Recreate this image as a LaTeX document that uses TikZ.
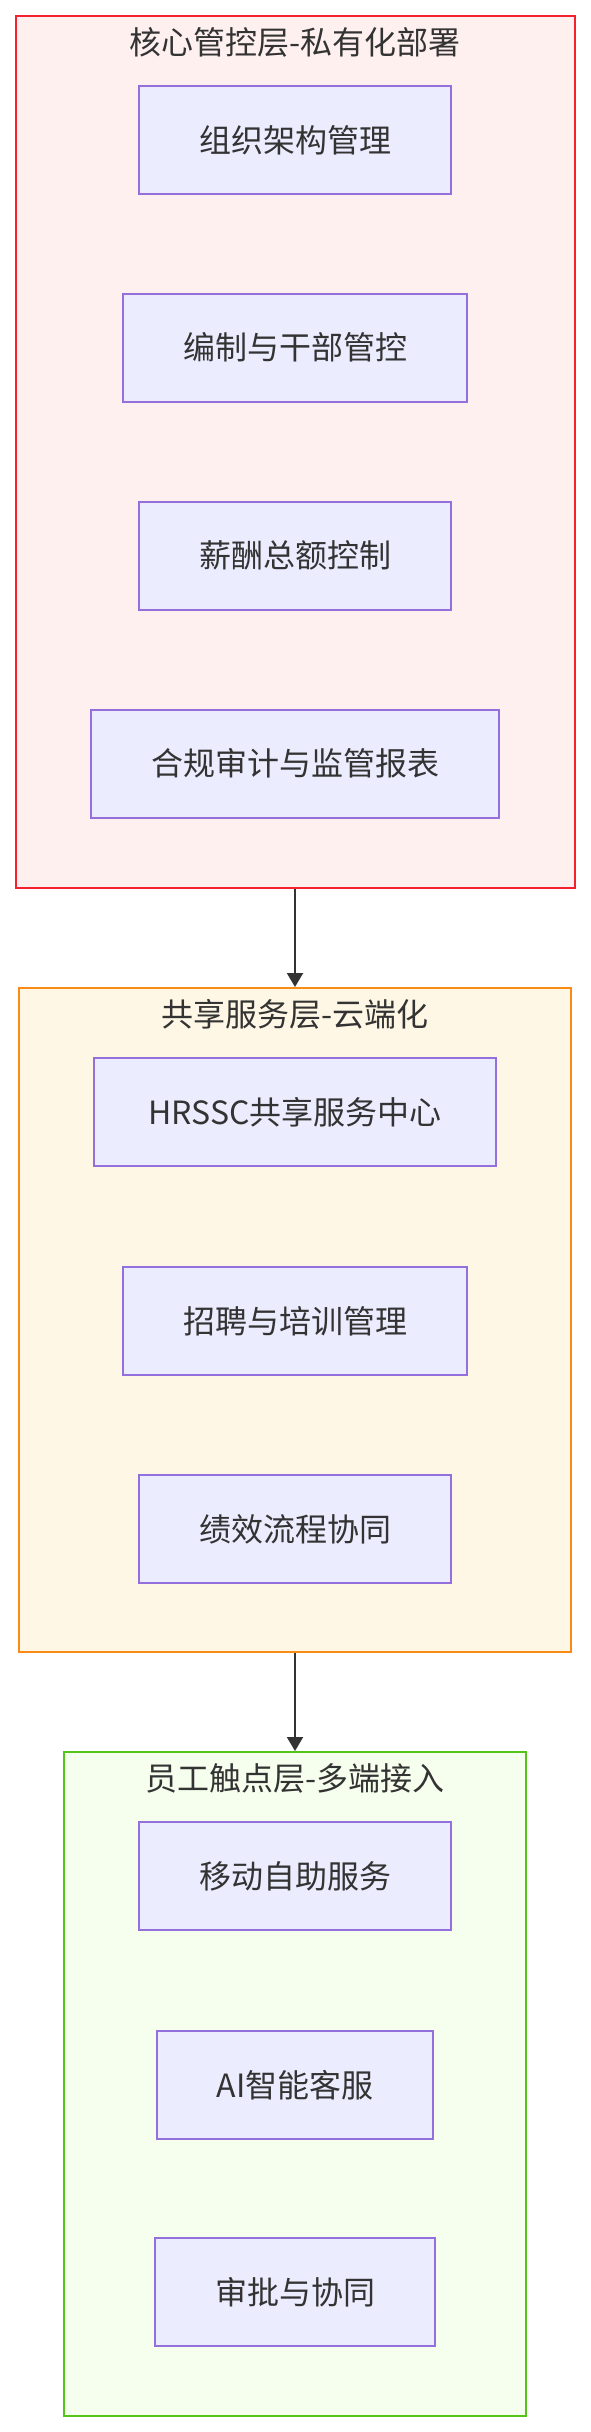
\documentclass[tikz,border=0pt]{standalone}
\usepackage{fontspec}
\setmainfont{Noto Sans CJK SC}
\usepackage{xcolor}
\usepackage{tikz}
\usetikzlibrary{arrows.meta,calc,positioning}

\definecolor{txtgray}{HTML}{333333}
\definecolor{boxfill}{HTML}{ECECFF}
\definecolor{boxline}{HTML}{9370DB}
\definecolor{corefill}{HTML}{FFF0F0}
\definecolor{coreline}{HTML}{F5222D}
\definecolor{sharefill}{HTML}{FFF7E6}
\definecolor{shareline}{HTML}{FA8C16}
\definecolor{touchfill}{HTML}{F6FFED}
\definecolor{touchline}{HTML}{52C41A}

\tikzset{
  item/.style={draw=boxline, fill=boxfill, line width=1pt, text=txtgray,
    inner xsep=30pt, minimum height=54pt,
    font=\fontsize{16pt}{19pt}\selectfont},
  layer/.style={line width=1pt, inner sep=0pt},
  layertitle/.style={text=txtgray, font=\fontsize{16pt}{19pt}\selectfont},
  flow/.style={-{Triangle[length=7pt,width=8pt]}, draw=txtgray, line width=1pt}
}

\begin{document}
\begin{tikzpicture}[x=0.5pt, y=-0.5pt]
\useasboundingbox (0,0) rectangle (590,2432);

% Layer frames
\node[layer, draw=coreline, fill=corefill, minimum width=279.5pt, minimum height=436.25pt] (core) at (295,451.75) {};
\node[layer, draw=shareline, fill=sharefill, minimum width=276.2pt, minimum height=332pt] (share) at (295,1320) {};
\node[layer, draw=touchline, fill=touchfill, minimum width=231pt, minimum height=332pt] (touch) at (295,2084) {};

% Layer titles
\node[layertitle] (coretitle) at (295,42) {核心管控层-私有化部署};
\node[layertitle] (sharetitle) at (295,1014) {共享服务层-云端化};
\node[layertitle] (touchtitle) at (295,1778) {员工触点层-多端接入};

% Items
\foreach \nm/\y/\sep/\txt in {org/140/30/组织架构管理, staff/347.5/30/编制与干部管控, pay/555.5/30/薪酬总额控制,
  audit/763.5/30/合规审计与监管报表, hrssc/1112/27/HRSSC共享服务中心, recruit/1321/30/招聘与培训管理,
  perf/1529/30/绩效流程协同, mobile/1876/30/移动自助服务, ai/2085/30/AI智能客服, approve/2292/30/审批与协同} {
  \node[item, inner xsep=\sep pt] (\nm) at (295,\y) {\txt};
}

% Links between layers
\draw[flow] (core) -- (share);
\draw[flow] (share) -- (touch);
\end{tikzpicture}
\end{document}
